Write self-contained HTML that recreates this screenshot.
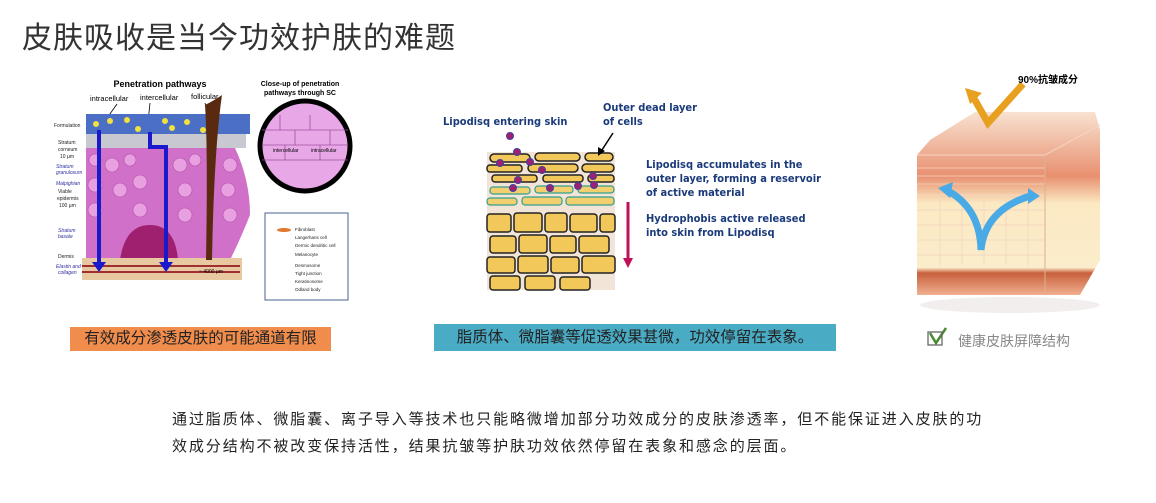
<!DOCTYPE html>
<html><head><meta charset="utf-8"><style>
body{margin:0;width:1156px;height:503px;background:#fff;overflow:hidden;position:relative;font-family:"Liberation Sans","Noto Sans CJK SC",sans-serif}
.t{position:absolute;left:22px;top:13px;font-size:30px;color:#333;letter-spacing:1px;white-space:nowrap}
.b{position:absolute;color:#222;font-size:15px;text-align:center;line-height:26px}
.p{position:absolute;left:172px;top:406px;font-size:15px;line-height:27px;color:#222;white-space:nowrap;letter-spacing:1.9px}
svg{position:absolute;left:0;top:0}
</style></head><body>
<div class="t">皮肤吸收是当今功效护肤的难题</div>
<svg width="1156" height="503" font-family="Liberation Sans, sans-serif">
<!-- LEFT -->
<text x="160" y="87" font-size="9" font-weight="bold" text-anchor="middle">Penetration pathways</text>
<text x="90" y="101" font-size="7.5">intracellular</text>
<text x="140" y="100" font-size="7.5">intercellular</text>
<text x="191" y="99" font-size="7.5">follicular</text>
<path d="M117 104 L100 128 M150 103 L148 122 M205 103 L212 130" stroke="#000" stroke-width="0.8"/>
<text x="300" y="86" font-size="7" font-weight="bold" text-anchor="middle">Close-up of penetration</text>
<text x="300" y="95" font-size="7" font-weight="bold" text-anchor="middle">pathways through SC</text>
<rect x="86" y="114" width="164" height="20" fill="#4a6fc4"/>
<g fill="#f0e040"><circle cx="96" cy="124" r="3"/><circle cx="110" cy="121" r="3"/><circle cx="127" cy="120" r="3"/><circle cx="138" cy="129" r="3"/><circle cx="165" cy="121" r="3"/><circle cx="172" cy="128" r="3"/><circle cx="187" cy="122" r="3"/><circle cx="203" cy="130" r="3"/></g>
<rect x="86" y="134" width="160" height="14" fill="#c8c8d0"/>
<path d="M86 148 H235 Q250 180 250 215 Q240 240 230 260 H86Z" fill="#d070c8"/>
<g fill="#e8a0e0" stroke="#b050a8" stroke-width="0.6">
<circle cx="95" cy="160" r="6"/><circle cx="112" cy="165" r="7"/><circle cx="130" cy="160" r="6"/><circle cx="180" cy="165" r="7"/><circle cx="195" cy="160" r="6"/><circle cx="230" cy="165" r="7"/><circle cx="95" cy="185" r="7"/><circle cx="120" cy="190" r="7"/><circle cx="140" cy="182" r="7"/><circle cx="185" cy="190" r="7"/><circle cx="228" cy="190" r="7"/><circle cx="95" cy="210" r="7"/><circle cx="185" cy="215" r="7"/><circle cx="230" cy="215" r="7"/><circle cx="140" cy="210" r="7"/></g>
<path d="M120 260 Q125 225 150 225 Q175 225 178 260Z" fill="#a02070"/>
<rect x="82" y="258" width="160" height="22" fill="#e8c8a0"/>
<path d="M82 266 H240 M82 272 H240" stroke="#a03030" stroke-width="2"/>
<path d="M205 105 Q215 100 222 95 Q214 150 212 260 L206 260 Q208 150 205 105Z" fill="#5a2a10"/>
<g stroke="#1a1acc" stroke-width="4" fill="none"><path d="M99 130 V268"/><path d="M150 132 V147 H166 V268"/></g>
<g fill="#1a1acc"><path d="M92 262 L99 272 L106 262Z"/><path d="M159 262 L166 272 L173 262Z"/></g>
<g font-size="5" fill="#222"><text x="54" y="127">Formulation</text><text x="58" y="144">Stratum</text><text x="58" y="151">corneum</text><text x="60" y="158">10 µm</text><text x="58" y="193">Viable</text><text x="57" y="200">epidermis</text><text x="59" y="207">100 µm</text><text x="58" y="258">Dermis</text></g>
<g font-size="5" fill="#3030a0" font-style="italic"><text x="56" y="168">Stratum</text><text x="56" y="174">granulosum</text><text x="56" y="185">Malpighian</text><text x="58" y="232">Stratum</text><text x="58" y="238">basale</text><text x="56" y="268">Elastin and</text><text x="58" y="274">collagen</text></g>
<circle cx="305" cy="146" r="45" fill="#e8a8e8" stroke="#000" stroke-width="5"/>
<g stroke="#a050a0" stroke-width="0.8" fill="none"><path d="M262 130 H348 M262 145 H348 M262 160 H348 M280 115 V130 M310 115 V130 M295 130 V145 M330 130 V145 M285 145 V160 M320 145 V160"/></g>
<text x="273" y="152" font-size="5">intercellular</text><text x="311" y="152" font-size="5">intracellular</text>
<rect x="265" y="213" width="83" height="87" fill="#fff" stroke="#4a6090"/>
<g font-size="4.5" fill="#222"><text x="295" y="231">Fibroblast</text><text x="295" y="239">Langerhans cell</text><text x="295" y="247">Dermic dendritic cell</text><text x="295" y="256">Melanocyte</text><text x="295" y="267">Desmosome</text><text x="295" y="275">Tight junction</text><text x="295" y="283">Keratinosome</text><text x="295" y="291">Odland body</text></g>
<g fill="#e07830"><ellipse cx="284" cy="230" rx="7" ry="2"/></g>
<text x="199" y="273" font-size="5">~ 4000 µm</text>
<!-- MIDDLE -->
<g fill="#1a3a7a" font-size="11" font-weight="bold" font-family="DejaVu Sans Condensed, Liberation Sans, sans-serif">
<text x="443" y="125">Lipodisq entering skin</text><text x="603" y="111">Outer dead layer</text><text x="603" y="125">of cells</text>
<text x="646" y="168">Lipodisq accumulates in the</text><text x="646" y="182">outer layer, forming a reservoir</text><text x="646" y="196">of active material</text>
<text x="646" y="222">Hydrophobis active released</text><text x="646" y="236">into skin from Lipodisq</text></g>
<rect x="487" y="152" width="128" height="138" fill="#f3e4d8"/>
<g fill="#f2c85a" stroke="#222" stroke-width="1.5">
<rect x="490" y="154" width="40" height="8" rx="4"/><rect x="535" y="153" width="45" height="8" rx="4"/><rect x="585" y="153" width="28" height="8" rx="4"/>
<rect x="487" y="165" width="35" height="7" rx="3"/><rect x="528" y="164" width="50" height="8" rx="4"/><rect x="582" y="164" width="32" height="8" rx="4"/>
<rect x="492" y="175" width="45" height="7" rx="3"/><rect x="543" y="175" width="40" height="7" rx="3"/><rect x="588" y="175" width="26" height="7" rx="3"/>
<rect x="487" y="214" width="24" height="18" rx="3"/><rect x="514" y="213" width="28" height="19" rx="3"/><rect x="545" y="213" width="22" height="19" rx="3"/><rect x="570" y="214" width="27" height="18" rx="3"/><rect x="600" y="214" width="15" height="18" rx="3"/>
<rect x="490" y="236" width="26" height="17" rx="3"/><rect x="519" y="235" width="28" height="18" rx="3"/><rect x="550" y="236" width="26" height="17" rx="3"/><rect x="579" y="236" width="30" height="17" rx="3"/>
<rect x="487" y="257" width="28" height="16" rx="3"/><rect x="518" y="256" width="30" height="17" rx="3"/><rect x="551" y="257" width="28" height="16" rx="3"/><rect x="582" y="256" width="33" height="17" rx="3"/>
<rect x="490" y="276" width="30" height="14" rx="3"/><rect x="525" y="276" width="30" height="14" rx="3"/><rect x="560" y="277" width="30" height="13" rx="3"/>
</g>
<g fill="#f2d070" stroke="#30a090" stroke-width="1.2"><rect x="490" y="187" width="40" height="7" rx="3"/><rect x="535" y="186" width="38" height="7" rx="3"/><rect x="578" y="186" width="36" height="7" rx="3"/><rect x="487" y="198" width="30" height="7" rx="3"/><rect x="522" y="197" width="40" height="8" rx="3"/><rect x="566" y="197" width="48" height="8" rx="3"/></g>
<g fill="#a02070" stroke="#4040a0"><circle cx="510" cy="136" r="3.5"/><circle cx="517" cy="152" r="3.5"/><circle cx="530" cy="162" r="3.5"/><circle cx="542" cy="170" r="3.5"/><circle cx="518" cy="180" r="3.5"/><circle cx="500" cy="163" r="3.5"/><circle cx="513" cy="188" r="3.5"/><circle cx="550" cy="188" r="3.5"/><circle cx="578" cy="186" r="3.5"/><circle cx="593" cy="176" r="3.5"/><circle cx="594" cy="185" r="3.5"/></g>
<path d="M613 133 L600 153" stroke="#000" stroke-width="1.5"/><path d="M598 156 L598 147 L605 151Z"/>
<path d="M628 202 V260" stroke="#c0105a" stroke-width="3"/><path d="M623 258 L628 268 L633 258Z" fill="#c0105a"/>
<!-- RIGHT CUBE -->
<defs><linearGradient id="c" x1="0" y1="0" x2="0" y2="1"><stop offset="0" stop-color="#f8e2d0"/><stop offset=".35" stop-color="#e89070"/><stop offset=".5" stop-color="#fbe9c2"/><stop offset=".85" stop-color="#fbeccb"/><stop offset=".88" stop-color="#c8603c"/><stop offset="1" stop-color="#f0b090"/></linearGradient></defs>
<path d="M930 140 L975 112 L1095 112 L1100 130 L1100 260 L1080 295 L917 295 L917 155Z" fill="url(#c)"/>
<g stroke="#f5d8c0" stroke-width="1" fill="none">
<path d="M917 195 H1045 M917 210 H1045 M917 225 H1045 M917 240 H1045 M917 255 H1045"/>
<path d="M940 195 V265 M962 195 V265 M984 195 V265 M1006 195 V265 M1028 195 V265"/></g>
<g stroke="#f4c8b0" stroke-width="1" fill="none"><path d="M917 168 H1045 M917 176 H1045 M917 184 H1045"/></g>
<path d="M917 155 H1045 L1100 125" stroke="#f6d4c4" fill="none"/>
<path d="M1045 155 V295" stroke="#ddb090"/>
<ellipse cx="1010" cy="305" rx="90" ry="8" fill="#f3eeee"/>
<path d="M972 95 L988 123 L1023 84" stroke="#e8a020" stroke-width="7" fill="none"/>
<path d="M965 88 L982 93 L970 104Z" fill="#e8a020"/>
<text x="1018" y="83" font-size="10" font-weight="bold" font-family="Liberation Sans, Noto Sans CJK SC, sans-serif">90%抗皱成分</text>
<path d="M981 250 Q980 210 950 192 M981 250 Q985 210 1030 196" stroke="#4aaae6" stroke-width="7" fill="none"/>
<path d="M938 188 L953 182 L950 198Z M1040 196 L1028 188 L1028 204Z" fill="#4aaae6"/>
<path d="M930 333 L936 343 L946 328" stroke="#4a8a30" stroke-width="2.5" fill="none"/><rect x="928" y="332" width="14" height="13" fill="none" stroke="#666" stroke-width="1.3"/>
<text x="958" y="346" font-size="14" fill="#888" font-family="Liberation Sans, Noto Sans CJK SC, sans-serif">健康皮肤屏障结构</text>
</svg>
<div class="b" style="left:70px;top:327px;width:261px;height:24px;background:#f08c4c;line-height:24px;font-size:15.5px">有效成分渗透皮肤的可能通道有限</div>
<div class="b" style="left:434px;top:324px;width:402px;height:27px;background:#4aabc4;line-height:27px;font-size:15.5px">脂质体、微脂囊等促透效果甚微，功效停留在表象。</div>
<div class="p">通过脂质体、微脂囊、离子导入等技术也只能略微增加部分功效成分的皮肤渗透率，但不能保证进入皮肤的功<br>效成分结构不被改变保持活性，结果抗皱等护肤功效依然停留在表象和感念的层面。</div>
</body></html>
